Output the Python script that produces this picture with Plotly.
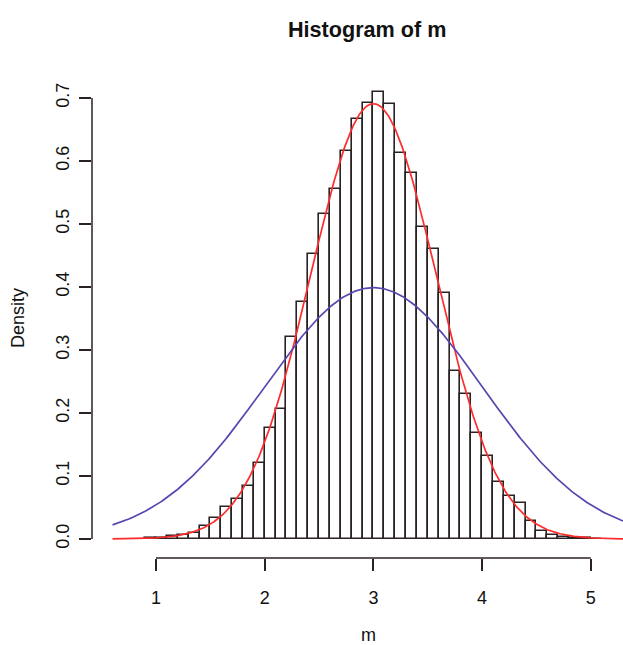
import numpy as np
import plotly.graph_objects as go

# Histogram of m: bin edges (width 0.1) and density heights
bin_left = [round(0.9 + 0.1 * i, 1) for i in range(42)]
density = [
    0.0008, 0.0015, 0.005, 0.006, 0.010, 0.0206, 0.033, 0.051, 0.063, 0.084,
    0.120, 0.176, 0.206, 0.320, 0.376, 0.453, 0.516, 0.555, 0.616, 0.667,
    0.692, 0.710, 0.690, 0.612, 0.581, 0.495, 0.461, 0.391, 0.267, 0.230,
    0.169, 0.131, 0.090, 0.068, 0.057, 0.028, 0.012, 0.006, 0.003, 0.0015,
    0.001, 0.0005,
]
bin_width = 0.1

# Theoretical normal densities overlaid on the histogram
mu = 3.0
sd_mean = 1 / np.sqrt(3)   # sampling distribution of the mean
sd_pop = 1.0               # population distribution

x_ticks = [1, 2, 3, 4, 5]
y_ticks = [0.0, 0.1, 0.2, 0.3, 0.4, 0.5, 0.6, 0.7]
y_tick_text = ["0.0", "0.1", "0.2", "0.3", "0.4", "0.5", "0.6", "0.7"]


def dnorm(x, m, s):
    return np.exp(-0.5 * ((x - m) / s) ** 2) / (s * np.sqrt(2 * np.pi))


xs = np.linspace(0.6, 5.4, 401)
centers = [b + bin_width / 2 for b in bin_left]

ink = "#2a2222"
font = "Liberation Sans, Arial, Helvetica, sans-serif"

fig = go.Figure()
fig.add_trace(go.Bar(
    x=centers, y=density, width=bin_width,
    marker=dict(color="rgba(0,0,0,0)", line=dict(color=ink, width=1.6)),
    hoverinfo="skip",
))
fig.add_trace(go.Scatter(
    x=xs, y=dnorm(xs, mu, sd_mean), mode="lines",
    line=dict(color="#ff2a2a", width=1.7),
))
fig.add_trace(go.Scatter(
    x=xs, y=dnorm(xs, mu, sd_pop), mode="lines",
    line=dict(color="#5846b0", width=1.7),
))

fig.update_layout(
    width=623, height=645,
    margin=dict(l=92, r=0, t=70, b=87),
    paper_bgcolor="white", plot_bgcolor="white",
    showlegend=False, bargap=0,
    font=dict(family=font, size=18, color="#111111"),
    xaxis=dict(
        range=[0.411, 5.296], tickvals=x_ticks, ticktext=[str(v) for v in x_ticks],
        ticks="outside", ticklen=12, tickwidth=1.5, tickcolor=ink,
        showgrid=False, zeroline=False, showline=False,
        ticklabelstandoff=11,
    ),
    yaxis=dict(
        range=[-0.0302, 0.7444], tickvals=y_ticks, ticktext=y_tick_text,
        tickangle=-90, ticks="outside", ticklen=12, tickwidth=1.5, tickcolor=ink,
        showgrid=False, zeroline=False, showline=False,
        ticklabelstandoff=3,
    ),
    shapes=[
        dict(type="line", xref="x", yref="paper", x0=x_ticks[0], x1=x_ticks[-1],
             y0=0, y1=0, line=dict(color=ink, width=1.5)),
        dict(type="line", xref="paper", yref="y", x0=0, x1=0,
             y0=y_ticks[0], y1=y_ticks[-1], line=dict(color=ink, width=1.5)),
    ],
    annotations=[
        dict(text="<b>Histogram of m</b>", xref="paper", yref="paper",
             x=0.518, y=1.082, xanchor="center", yanchor="middle",
             showarrow=False, font=dict(size=21.6, family=font, color="#111111")),
        dict(text="m", xref="paper", yref="paper", x=0.52, y=-0.158,
             xanchor="center", yanchor="middle", showarrow=False,
             font=dict(size=18, family=font, color="#111111")),
        dict(text="Density", xref="paper", yref="paper", x=-0.139, y=0.492,
             xanchor="center", yanchor="middle", textangle=-90, showarrow=False,
             font=dict(size=18, family=font, color="#111111")),
    ],
)

fig.write_html("out.html")
